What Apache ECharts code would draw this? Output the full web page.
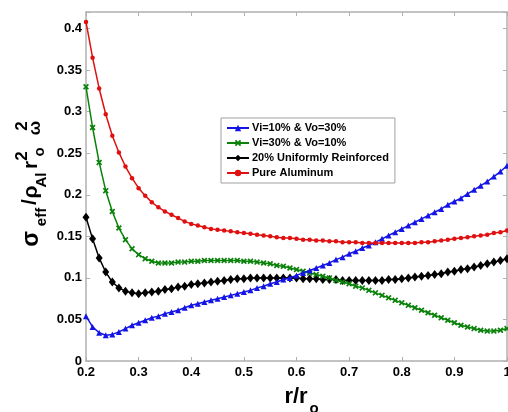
<!DOCTYPE html>
<html><head><meta charset="utf-8">
<script src="https://cdn.jsdelivr.net/npm/echarts@6/dist/echarts.min.js"></script>
<style>html,body{margin:0;padding:0;background:#fff}#c{width:508px;height:412px}</style>
</head><body><div id="c"></div>
<script>
const r = [0.2,0.2125,0.225,0.2375,0.25,0.2625,0.275,0.2875,0.3,0.3125,0.325,0.3375,0.35,0.3625,0.375,0.3875,
0.4,0.4125,0.425,0.4375,0.45,0.4625,0.475,0.4875,0.5,0.5125,0.525,0.5375,0.55,0.5625,0.575,0.5875,
0.6,0.6125,0.625,0.6375,0.65,0.6625,0.675,0.6875,0.7,0.7125,0.725,0.7375,0.75,0.7625,0.775,0.7875,
0.8,0.8125,0.825,0.8375,0.85,0.8625,0.875,0.8875,0.9,0.9125,0.925,0.9375,0.95,0.9625,0.975,0.9875,1.0];

const viTenVoThirty = [0.054,0.041,0.034,0.031,0.032,0.035,0.039,0.043,0.046,0.049,0.052,0.054,0.057,0.059,0.061,0.064,
0.067,0.069,0.071,0.073,0.075,0.077,0.079,0.081,0.083,0.085,0.088,0.090,0.093,0.095,0.098,0.100,
0.103,0.106,0.109,0.112,0.115,0.118,0.122,0.125,0.129,0.132,0.136,0.139,0.143,0.147,0.151,0.155,
0.159,0.163,0.167,0.171,0.175,0.179,0.183,0.188,0.192,0.196,0.201,0.206,0.211,0.216,0.222,0.228,0.235];

const viThirtyVoTen = [0.330,0.281,0.239,0.205,0.180,0.160,0.146,0.135,0.128,0.123,0.120,0.118,0.118,0.118,0.119,0.119,
0.120,0.120,0.121,0.121,0.121,0.121,0.121,0.121,0.120,0.120,0.119,0.118,0.117,0.115,0.114,0.112,
0.110,0.108,0.106,0.104,0.102,0.100,0.097,0.095,0.093,0.090,0.088,0.085,0.082,0.079,0.076,0.073,
0.070,0.067,0.064,0.061,0.058,0.055,0.052,0.049,0.046,0.043,0.041,0.039,0.037,0.036,0.036,0.037,0.039];

const uniform20 = [0.173,0.147,0.124,0.107,0.095,0.088,0.084,0.082,0.081,0.082,0.083,0.084,0.086,0.087,0.089,0.090,
0.092,0.093,0.094,0.095,0.096,0.097,0.098,0.099,0.099,0.100,0.100,0.100,0.100,0.100,0.100,0.100,
0.100,0.099,0.099,0.099,0.098,0.098,0.098,0.097,0.097,0.097,0.097,0.097,0.097,0.097,0.098,0.098,
0.099,0.100,0.101,0.102,0.103,0.104,0.105,0.107,0.108,0.110,0.111,0.113,0.115,0.117,0.119,0.121,0.123];

const pureAl = [0.408,0.365,0.328,0.297,0.271,0.251,0.234,0.220,0.208,0.199,0.191,0.185,0.180,0.176,0.172,0.168,
0.165,0.163,0.161,0.159,0.158,0.157,0.156,0.155,0.154,0.153,0.152,0.151,0.150,0.149,0.148,0.148,
0.147,0.146,0.146,0.145,0.145,0.144,0.144,0.143,0.143,0.143,0.142,0.142,0.142,0.142,0.142,0.142,
0.142,0.142,0.142,0.143,0.143,0.144,0.145,0.146,0.147,0.148,0.149,0.150,0.151,0.152,0.154,0.155,0.157];

const seriesNames = ['Vi=10% & Vo=30%','Vi=30% & Vo=10%','20% Uniformly Reinforced','Pure Aluminum'];
const xTickLabels = ['0.2','0.3','0.4','0.5','0.6','0.7','0.8','0.9','1'];
const yTickLabels = ['0','0.05','0.1','0.15','0.2','0.25','0.3','0.35','0.4'];

const FONT = '"Liberation Sans", Arial, sans-serif';
const AX = '#b0b0b0';
const pair = arr => r.map((x, i) => [x, arr[i]]);
const fmtX = v => { const s = xTickLabels.find(t => Math.abs(parseFloat(t) - v) < 1e-6); return s === undefined ? '' : s; };
const fmtY = v => { const s = yTickLabels.find(t => Math.abs(parseFloat(t) - v) < 1e-6); return s === undefined ? '' : s; };

const xSym = 'path://M0,2L2,0L5,3L8,0L10,2L7,5L10,8L8,10L5,7L2,10L0,8L3,5Z';

const chart = echarts.init(document.getElementById('c'), null, {renderer: 'canvas'});
const axisCommon = {
  type: 'value', splitLine: {show: false},
  axisLine: {show: true, onZero: false, lineStyle: {color: AX, width: 1.5}},
  axisTick: {show: true, inside: true, length: 4, lineStyle: {color: AX, width: 1}},
};
chart.setOption({
  animation: false,
  backgroundColor: '#fff',
  grid: {left: 86, right: 1, top: 12, bottom: 51, containLabel: false, outerBoundsMode: 'none'},
  legend: {
    orient: 'vertical', left: 221, top: 118,
    padding: [4, 6, 4, 5], itemGap: 3, itemWidth: 22, itemHeight: 8,
    backgroundColor: '#fff', borderColor: '#a0a0a0', borderWidth: 1,
    textStyle: {fontFamily: FONT, fontWeight: 'bold', fontSize: 11, color: '#000', lineHeight: 12, padding: [0,0,0,-2]},
    data: seriesNames
  },
  xAxis: [
    Object.assign({}, axisCommon, {min: 0.2, max: 1.0, interval: 0.1, position: 'bottom',
      axisLabel: {formatter: fmtX, margin: 5, fontFamily: FONT, fontWeight: 'bold', fontSize: 13, color: '#000', showMaxLabel: true}}),
    Object.assign({}, axisCommon, {min: 0.2, max: 1.0, interval: 0.1, position: 'top', axisLabel: {show: false}})
  ],
  yAxis: [
    Object.assign({}, axisCommon, {min: 0, max: 0.42, interval: 0.05, position: 'left',
      axisLabel: {formatter: fmtY, margin: 4, fontFamily: FONT, fontWeight: 'bold', fontSize: 13, color: '#000'}}),
    Object.assign({}, axisCommon, {min: 0, max: 0.42, interval: 0.05, position: 'right', axisLabel: {show: false}})
  ],
  series: [
    {name: seriesNames[0], type: 'line', data: pair(viTenVoThirty), symbol: 'triangle', symbolSize: 6,
      color: '#1414e6', lineStyle: {width: 1.5}, z: 4},
    {name: seriesNames[1], type: 'line', data: pair(viThirtyVoTen), symbol: xSym, symbolSize: 6,
      color: '#0a820a', lineStyle: {width: 1.5}, z: 3},
    {name: seriesNames[2], type: 'line', data: pair(uniform20), symbol: 'diamond', symbolSize: [7, 9],
      color: '#000000', lineStyle: {width: 1.5}, z: 2},
    {name: seriesNames[3], type: 'line', data: pair(pureAl), symbol: 'circle', symbolSize: 4.5,
      color: '#e01010', lineStyle: {width: 1.5}, z: 5}
  ],
  graphic: [
    {type: 'text', x: 32, y: 239, rotation: Math.PI / 2, style: {text: 'σ', font: 'bold 23px ' + FONT, fill: '#000', align: 'center', verticalAlign: 'middle'}},
    {type: 'text', x: 42, y: 217, rotation: Math.PI / 2, style: {text: 'eff', font: 'bold 15px ' + FONT, fill: '#000', align: 'center', verticalAlign: 'middle'}},
    {type: 'text', x: 30, y: 202, rotation: Math.PI / 2, style: {text: '/', font: 'bold 21px ' + FONT, fill: '#000', align: 'center', verticalAlign: 'middle'}},
    {type: 'text', x: 31, y: 192, rotation: Math.PI / 2, style: {text: 'ρ', font: 'bold 21px ' + FONT, fill: '#000', align: 'center', verticalAlign: 'middle'}},
    {type: 'text', x: 42, y: 180, rotation: Math.PI / 2, style: {text: 'Al', font: 'bold 15px ' + FONT, fill: '#000', align: 'center', verticalAlign: 'middle'}},
    {type: 'text', x: 31, y: 165, rotation: Math.PI / 2, style: {text: 'r', font: 'bold 21px ' + FONT, fill: '#000', align: 'center', verticalAlign: 'middle'}},
    {type: 'text', x: 40, y: 152, rotation: Math.PI / 2, style: {text: 'o', font: 'bold 15px ' + FONT, fill: '#000', align: 'center', verticalAlign: 'middle'}},
    {type: 'text', x: 22, y: 156, rotation: Math.PI / 2, style: {text: '2', font: 'bold 17px ' + FONT, fill: '#000', align: 'center', verticalAlign: 'middle'}},
    {type: 'text', x: 35, y: 128, rotation: Math.PI / 2, style: {text: 'ω', font: 'bold 17px ' + FONT, fill: '#000', align: 'center', verticalAlign: 'middle'}},
    {type: 'text', x: 22, y: 126, rotation: Math.PI / 2, style: {text: '2', font: 'bold 17px ' + FONT, fill: '#000', align: 'center', verticalAlign: 'middle'}},
    {type: 'text', x: 296, y: 397, style: {text: 'r/r', font: 'bold 22px ' + FONT, fill: '#000', align: 'center', verticalAlign: 'middle'}},
    {type: 'text', x: 314, y: 409, style: {text: 'o', font: 'bold 15px ' + FONT, fill: '#000', align: 'center', verticalAlign: 'middle'}}
  ]
});
</script>
</body></html>
